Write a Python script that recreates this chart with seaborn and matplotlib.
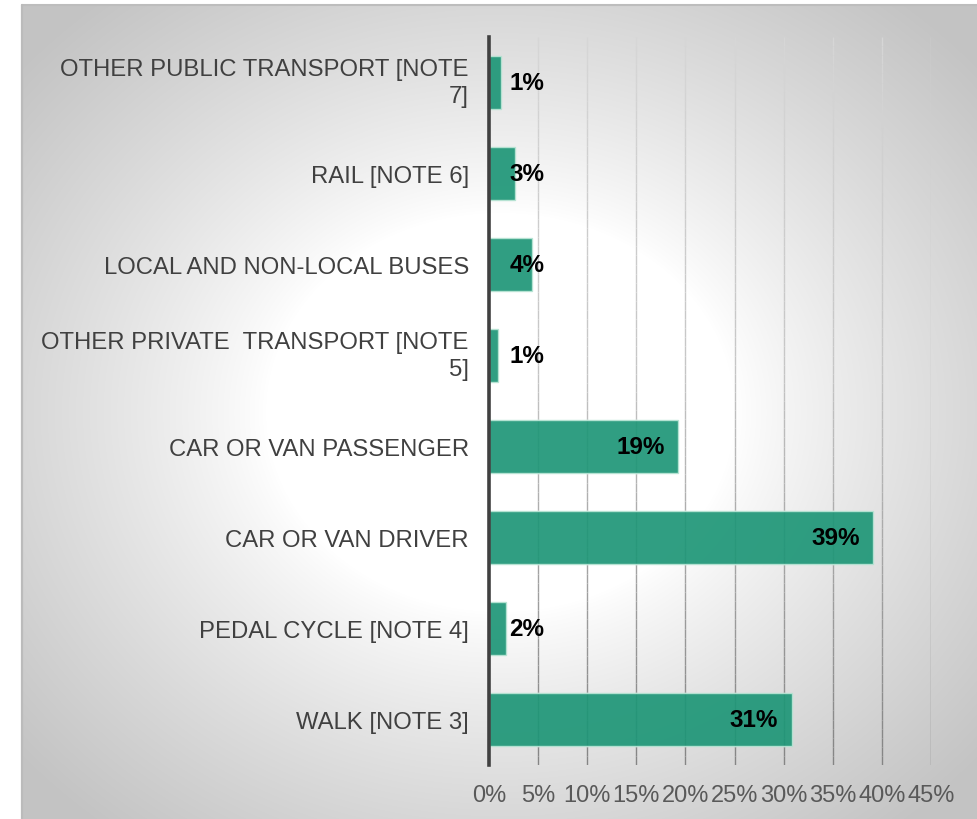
import numpy as np
import pandas as pd
import matplotlib
matplotlib.use("Agg")
import matplotlib.pyplot as plt
from matplotlib.collections import LineCollection
import seaborn as sns

# Share of trips by main mode (%)
modes = [
    "OTHER PUBLIC TRANSPORT [NOTE\n7]",
    "RAIL [NOTE 6]",
    "LOCAL AND NON-LOCAL BUSES",
    "OTHER PRIVATE  TRANSPORT [NOTE\n5]",
    "CAR OR VAN PASSENGER",
    "CAR OR VAN DRIVER",
    "PEDAL CYCLE [NOTE 4]",
    "WALK [NOTE 3]",
]
shares = [1.2, 2.6, 4.4, 0.9, 19.2, 39.1, 1.7, 30.8]
x_ticks = [0, 5, 10, 15, 20, 25, 30, 35, 40, 45]
x_tick_labels = ["0%", "5%", "10%", "15%", "20%", "25%", "30%", "35%", "40%", "45%"]

df = pd.DataFrame({"mode": modes, "share": shares})

sns.set_theme(style="white")
plt.rcParams["font.family"] = ["Liberation Sans", "DejaVu Sans"]

W, H = 978, 820
fig = plt.figure(figsize=(W / 100, H / 100), dpi=100)
fig.patch.set_facecolor("white")

# Radial grey-to-white backdrop: white core, grey towards the edges
px0, py0 = 22, 6
bg = fig.add_axes([px0 / W, 0, 1 - px0 / W, 1 - py0 / H], zorder=0)
pw, ph = W - px0, H - py0
yy, xx = np.mgrid[0:ph, 0:pw]
cx, cy = pw / 2.0, ph / 2.0
d = np.sqrt(((xx - cx) / cx) ** 2 + ((yy - cy) / cy) ** 2)
t = np.clip((d - 0.49) / 0.51, 0, None)
lum = 1.0 - 0.155 * t ** 0.85
lum = np.clip(lum, 0.765, 1.0)
bg.imshow(np.dstack([lum, lum, lum]), aspect="auto", interpolation="bilinear",
          extent=[0, pw, ph, 0])
bg.set_axis_off()
fig.add_artist(plt.Line2D([px0 / W, 1], [1 - py0 / H, 1 - py0 / H],
                          transform=fig.transFigure, color="#bdbdbd", lw=1.5))
fig.add_artist(plt.Line2D([px0 / W, px0 / W], [0, 1 - py0 / H],
                          transform=fig.transFigure, color="#bbbbbb", lw=1.6))

ax = fig.add_axes([489 / W, 1 - 766 / H, (931 - 489) / W, (766 - 38) / H], zorder=1)
ax.set_facecolor("none")

# Vertical gridlines that shade from light at the top to darker at the bottom
n_seg = 80
ys = np.linspace(-0.5, 7.5, n_seg + 1)
frac_pts = [0.0, 0.45, 0.6, 0.9, 1.0]
grey_pts = [214, 198, 180, 142, 132]
segs, cols = [], []
for xt in x_ticks[1:]:
    for k in range(n_seg):
        segs.append([(xt, ys[k]), (xt, ys[k + 1])])
        f = (k + 0.5) / n_seg
        g = np.interp(f, frac_pts, grey_pts) / 255.0
        cols.append((g, g, g, 1.0))
ax.add_collection(LineCollection(segs, colors=cols, linewidths=1.0,
                                 capstyle="butt", zorder=1))

sns.barplot(data=df, x="share", y="mode", orient="h", color="#1e9677",
            saturation=1, width=0.58, alpha=0.92, edgecolor="#b8e4d4",
            linewidth=1.0, ax=ax, zorder=2)

ax.set_xlim(0, 45)
ax.set_ylim(7.5, -0.5)
ax.set_xticks(x_ticks)
ax.set_xticklabels(x_tick_labels)
ax.grid(False)
for patch in ax.patches:
    patch.set_zorder(2)

for side in ["top", "right", "bottom"]:
    ax.spines[side].set_visible(False)
ax.spines["left"].set_color("#404040")
ax.spines["left"].set_linewidth(2.6)
ax.spines["left"].set_zorder(5)

ax.tick_params(axis="x", length=0, pad=14, labelsize=17, labelcolor="#595959")
ax.tick_params(axis="y", length=0, pad=14.5, labelsize=17.2, labelcolor="#404040")
for lbl in ax.get_yticklabels():
    lbl.set_multialignment("right")
    if "\n" in lbl.get_text():
        lbl.set_linespacing(1.3)
        lbl.set_verticalalignment("center")
ax.set_xlabel("")
ax.set_ylabel("")

# Value labels: inside the bar end, or beside the axis when the bar is short
for i, v in enumerate(shares):
    txt = f"{round(v):d}%"
    if v < 10:
        ax.annotate(txt, xy=(0, i), xytext=(14.5, 0), textcoords="offset points",
                    ha="left", va="center", fontsize=17.5, fontweight="bold",
                    color="black", zorder=6)
    else:
        ax.annotate(txt, xy=(v, i), xytext=(-9.5, 0), textcoords="offset points",
                    ha="right", va="center", fontsize=17.5, fontweight="bold",
                    color="black", zorder=6)

fig.savefig("out.png", dpi=100)
